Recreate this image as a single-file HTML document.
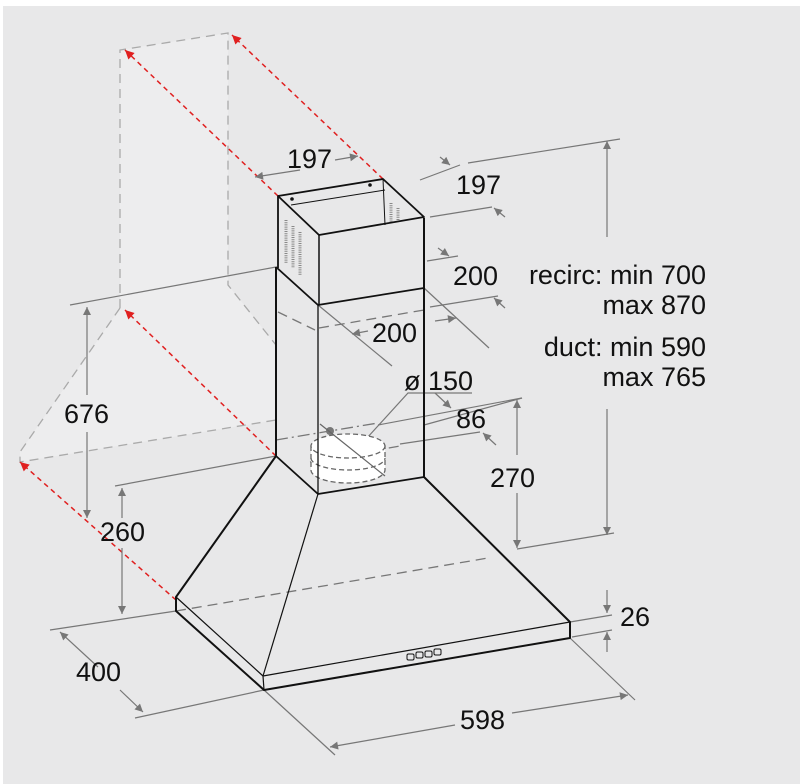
<!DOCTYPE html>
<html><head><meta charset="utf-8"><style>
html,body{margin:0;padding:0;background:#fff}
svg{display:block}
text{font-family:"Liberation Sans",Arial,sans-serif;font-size:27px;fill:#111}
</style></head><body>
<svg width="800" height="784" viewBox="0 0 800 784" xmlns="http://www.w3.org/2000/svg">
<defs>
<marker id="a" viewBox="0 0 10 10" refX="10" refY="5" markerWidth="12" markerHeight="8" markerUnits="userSpaceOnUse" orient="auto-start-reverse"><path d="M0,0 L10,5 L0,10 z" fill="#777"/></marker>
<marker id="r" viewBox="0 0 10 10" refX="10" refY="5" markerWidth="14" markerHeight="9" markerUnits="userSpaceOnUse" orient="auto-start-reverse"><path d="M0,0 L10,5 L0,10 z" fill="#e02020"/></marker>
</defs>
<rect x="3" y="6" width="797" height="778" fill="#e8e8e9"/>
<polygon points="120,50 228,33 228,285 276,345 276,420 20,462 20,452 120,308" fill="#ededee"/>
<g stroke="#aaa" stroke-width="1.3" fill="none" stroke-dasharray="9,6">
<polyline points="120,308 120,50 228,33 228,285 276,345"/>
<polyline points="120,308 20,452 20,462 276,420"/>
</g>
<g stroke="#e02020" stroke-width="1.5" stroke-dasharray="5,4" fill="none">
<line x1="278" y1="196" x2="125" y2="50" marker-end="url(#r)"/>
<line x1="383" y1="179" x2="232" y2="35" marker-end="url(#r)"/>
<line x1="276" y1="456" x2="125" y2="310" marker-end="url(#r)"/>
<line x1="176" y1="600" x2="20" y2="462" marker-end="url(#r)"/>
</g>
<g stroke="#777" stroke-width="1.2" fill="none">
<line x1="70" y1="305" x2="276" y2="267"/>
<line x1="87" y1="307" x2="87" y2="395" marker-start="url(#a)"/>
<line x1="87" y1="432" x2="87" y2="518" marker-end="url(#a)"/>
<line x1="115" y1="486" x2="276" y2="456"/>
<line x1="122" y1="488" x2="122" y2="518" marker-start="url(#a)"/>
<line x1="122" y1="548" x2="122" y2="614" marker-end="url(#a)"/>
<line x1="50" y1="630" x2="176" y2="611"/>
<line x1="135" y1="718" x2="264" y2="690"/>
<line x1="98" y1="667" x2="60" y2="632" marker-end="url(#a)"/>
<line x1="120" y1="690" x2="143" y2="712" marker-end="url(#a)"/>
<line x1="264" y1="690" x2="335" y2="755"/>
<line x1="570" y1="638" x2="635" y2="700"/>
<line x1="455" y1="725" x2="330" y2="747" marker-end="url(#a)"/>
<line x1="512" y1="713" x2="628" y2="695" marker-end="url(#a)"/>
<line x1="570" y1="622" x2="612" y2="615"/>
<line x1="572" y1="637" x2="612" y2="630"/>
<line x1="607" y1="590" x2="607" y2="613" marker-end="url(#a)"/>
<line x1="607" y1="652" x2="607" y2="632" marker-end="url(#a)"/>
<line x1="424" y1="425" x2="522" y2="398"/>
<line x1="517" y1="455" x2="517" y2="400" marker-end="url(#a)"/>
<line x1="517" y1="493" x2="517" y2="548" marker-end="url(#a)"/>
<line x1="517" y1="549" x2="614" y2="533"/>
<line x1="468" y1="163" x2="620" y2="139"/>
<line x1="607" y1="237" x2="607" y2="141" marker-end="url(#a)"/>
<line x1="607" y1="409" x2="607" y2="535" marker-end="url(#a)"/>
<line x1="420" y1="180" x2="460" y2="165"/>
<line x1="440" y1="157" x2="450" y2="165" marker-end="url(#a)"/>
<line x1="430" y1="217" x2="492" y2="207"/>
<line x1="505" y1="217" x2="494" y2="208" marker-end="url(#a)"/>
<line x1="427" y1="261" x2="458" y2="256"/>
<line x1="438" y1="248" x2="449" y2="256" marker-end="url(#a)"/>
<line x1="430" y1="307" x2="498" y2="296"/>
<line x1="505" y1="308" x2="494" y2="298" marker-end="url(#a)"/>
<line x1="424" y1="288" x2="489" y2="348"/>
<line x1="435" y1="321" x2="456" y2="318" marker-end="url(#a)"/>
<line x1="318" y1="305" x2="392" y2="366"/>
<line x1="368" y1="331" x2="352" y2="334" marker-end="url(#a)"/>
<line x1="300" y1="170" x2="255" y2="177" marker-end="url(#a)"/>
<line x1="335" y1="160" x2="358" y2="156" marker-end="url(#a)"/>
<polyline points="472,393 408,393 356,450"/>
<line x1="435" y1="393" x2="451" y2="408" marker-end="url(#a)"/>
<line x1="378" y1="425" x2="522" y2="398"/>
<line x1="400" y1="444" x2="480" y2="432"/>
<line x1="496" y1="445" x2="483" y2="433" marker-end="url(#a)"/>
</g>
<g stroke="#777" stroke-width="1.3" fill="none" stroke-dasharray="10,6">
<line x1="176" y1="611" x2="488" y2="558"/>
<line x1="278" y1="312" x2="315" y2="330"/>
<line x1="319" y1="328" x2="424" y2="310"/>
<line x1="310" y1="462" x2="400" y2="446"/>
</g>
<line x1="276" y1="440" x2="378" y2="423" stroke="#777" stroke-width="1.3" stroke-dasharray="12,4,2,4"/>
<circle cx="330" cy="431" r="4" fill="#777"/>
<g stroke="#666" stroke-width="1.3" stroke-dasharray="5,3" fill="#fff">
<path d="M311,446 L311,470 A37,13 0 0 0 385,470 L385,446 Z"/>
<ellipse cx="348" cy="446" rx="37" ry="12"/>
<path d="M311,458 A37,12 0 0 0 385,458" fill="none"/>
</g>
<line x1="320" y1="424" x2="385" y2="476" stroke="#666" stroke-width="1.2"/>
<g stroke="#111" fill="none" stroke-linejoin="round">
<path d="M276,267 L276,456 L176,597 L176,611 L264,690 L570,638 L570,622 L424,477 L424,218" stroke-width="2"/>
<line x1="318" y1="305" x2="318" y2="494" stroke-width="1.3"/>
<path d="M276,456 L318,494 L424,477" stroke-width="1.8"/>
<line x1="318" y1="494" x2="263" y2="676" stroke-width="1.2"/>
<path d="M176,597 L263,676 L570,622" stroke-width="1.2"/>
<line x1="263" y1="676" x2="264" y2="690" stroke-width="1.2"/>
<path d="M276,267 L318,305 L424,288" stroke-width="1.8"/>
<path d="M278,268 L278,196 L383,179 L424,217 L319,235 L278,196" stroke-width="1.8"/>
<line x1="319" y1="235" x2="319" y2="305" stroke-width="1.5"/>
<path d="M291,205 L385,190 M383,179 L385,225" stroke-width="1"/>
</g>
<circle cx="292" cy="199" r="1.8" fill="#111"/><circle cx="370" cy="185" r="1.8" fill="#111"/>
<g stroke="#888" stroke-width="3" stroke-dasharray="1,1.2">
<line x1="286" y1="220" x2="286" y2="263"/><line x1="293" y1="226" x2="293" y2="268"/><line x1="300" y1="232" x2="300" y2="275"/>
<line x1="391" y1="203" x2="391" y2="222"/><line x1="398" y1="208" x2="398" y2="220"/>
</g>
<g fill="none" stroke="#111" stroke-width="1">
<rect x="407" y="654" width="7" height="6" rx="1.5"/><rect x="416" y="652" width="7" height="6" rx="1.5"/><rect x="425" y="651" width="7" height="6" rx="1.5"/><rect x="434" y="649" width="7" height="6" rx="1.5"/>
</g>
<text x="287" y="168">197</text>
<text x="456" y="194">197</text>
<text x="453" y="285">200</text>
<text x="372" y="342">200</text>
<text x="404" y="390">ø 150</text>
<text x="456" y="428">86</text>
<text x="490" y="487">270</text>
<text x="64" y="423">676</text>
<text x="100" y="541">260</text>
<text x="76" y="681">400</text>
<text x="460" y="729">598</text>
<text x="620" y="626">26</text>
<text x="706" y="284" text-anchor="end">recirc: min 700</text>
<text x="706" y="314" text-anchor="end">max 870</text>
<text x="706" y="356" text-anchor="end">duct: min 590</text>
<text x="706" y="386" text-anchor="end">max 765</text>
</svg>
</body></html>
